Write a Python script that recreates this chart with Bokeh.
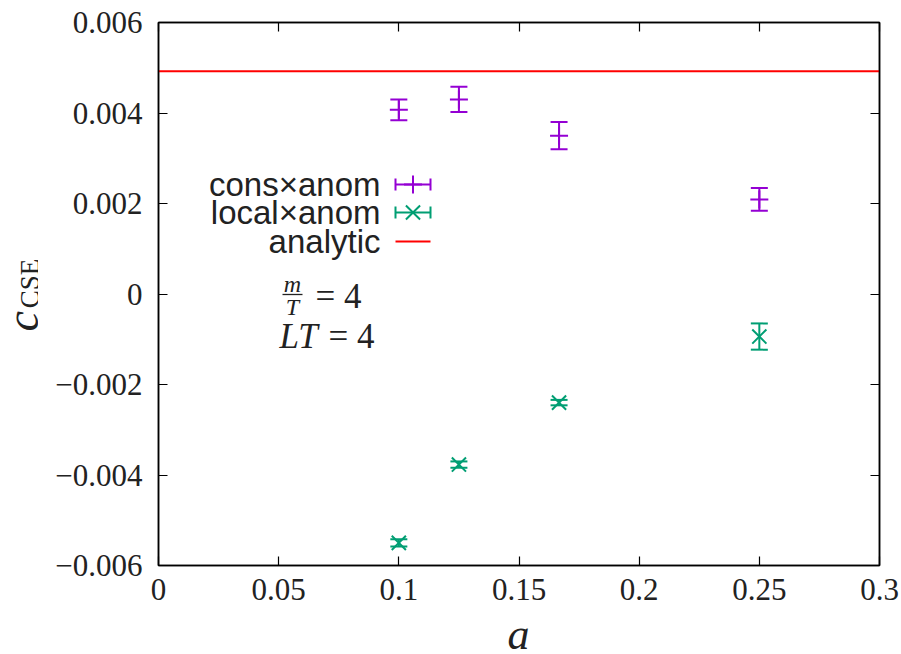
import numpy as np
from bokeh.plotting import figure
from bokeh.layouts import row, column
from bokeh.models import (Range1d, LinearAxis, Label, Whisker, TeeHead, ColumnDataSource,
                          FixedTicker, CustomJSTickFormatter)
from bokeh.embed import file_html
from bokeh.resources import INLINE

# ---------------- data ----------------
a_values = [0.1, 0.125, 1 / 6, 0.25]
cons_anom = [0.00407, 0.00430, 0.00350, 0.00209]
cons_anom_err = [0.00023, 0.00028, 0.00030, 0.00025]
local_anom = [-0.00550, -0.00377, -0.00240, -0.00094]
local_anom_err = [0.00008, 0.00007, 0.00006, 0.00029]
analytic_value = 0.00492

x_ticks = [0.0, 0.05, 0.1, 0.15, 0.2, 0.25, 0.3]
x_tick_labels = ["0", "0.05", "0.1", "0.15", "0.2", "0.25", "0.3"]
y_ticks = [-0.006, -0.004, -0.002, 0.0, 0.002, 0.004, 0.006]
y_tick_labels = ["\u22120.006", "\u22120.004", "\u22120.002", "0", "0.002", "0.004", "0.006"]

legend_labels = ["cons\u00d7anom", "local\u00d7anom", "analytic"]

PURPLE = "#9400d3"
GREEN = "#009e73"
RED = "#ff0000"
INK = "#222222"
SERIF = "Liberation Serif"
SANS = "Liberation Sans"

# ---------------- layout (page pixels) ----------------
W, H = 901, 654
LEFT_STRIP = 38          # column holding the y-axis title
BOTTOM_STRIP = 36        # row holding the x-axis title
L, R, T, B = 158, 879, 22, 565
X0, X1 = 0.0, 0.3
Y0, Y1 = -0.006, 0.006


def px_x(px):
    return X0 + (px - L) / (R - L) * (X1 - X0)


def px_y(py):
    return Y1 - (py - T) / (B - T) * (Y1 - Y0)


def blank_fig(w, h):
    # frame covers the whole strip; coordinates are pixels, y measured upward
    f = figure(width=w, height=h, output_backend="svg", toolbar_location=None,
               x_range=Range1d(0, w), y_range=Range1d(0, h),
               min_border_left=0, min_border_right=0, min_border_top=0, min_border_bottom=0,
               x_axis_location=None, y_axis_location=None)
    f.grid.visible = False
    f.outline_line_color = None
    f.background_fill_color = "white"
    f.border_fill_color = "white"
    return f


main_w = W - LEFT_STRIP
main_h = H - BOTTOM_STRIP
p = figure(width=main_w, height=main_h, output_backend="svg", toolbar_location=None,
           x_range=Range1d(X0, X1), y_range=Range1d(Y0, Y1),
           min_border_left=L - LEFT_STRIP, min_border_right=W - R, min_border_top=T,
           min_border_bottom=main_h - B, x_axis_location=None, y_axis_location=None)
p.grid.visible = False
p.outline_line_color = "black"
p.outline_line_width = 1.5
p.background_fill_color = "white"
p.border_fill_color = "white"

tick_js = """
let best = 0; let d = 1e9;
for (let i = 0; i < tvals.length; i++) {
  const dd = Math.abs(tvals[i] - tick);
  if (dd < d) { d = dd; best = i; }
}
return tlabs[best];
"""


def make_axis(ticks, labels, show):
    ax = LinearAxis(ticker=FixedTicker(ticks=ticks),
                    formatter=CustomJSTickFormatter(args=dict(tvals=ticks, tlabs=labels), code=tick_js))
    ax.major_tick_in = 9
    ax.major_tick_out = 0
    ax.minor_tick_line_color = None
    ax.axis_line_color = "black"
    ax.axis_line_width = 1.5
    ax.major_tick_line_width = 1.2
    ax.major_label_text_font = SERIF
    ax.major_label_text_font_size = "31px" if show else "1px"
    ax.major_label_text_color = INK if show else None
    return ax


xb = make_axis(x_ticks, x_tick_labels, True)
xb.major_label_standoff = 13
p.add_layout(xb, "below")
yl = make_axis(y_ticks, y_tick_labels, True)
yl.major_label_standoff = 16
p.add_layout(yl, "left")
xa = make_axis(x_ticks, x_tick_labels, False)
xa.major_label_standoff = 0
p.add_layout(xa, "above")
yr = make_axis(y_ticks, y_tick_labels, False)
yr.major_label_standoff = 0
p.add_layout(yr, "right")

# analytic line
p.line(x=[X0, X1], y=[analytic_value, analytic_value], line_color=RED, line_width=2)

# data with error bars
cons_src = ColumnDataSource(dict(
    x=a_values, y=cons_anom,
    lo=[v - e for v, e in zip(cons_anom, cons_anom_err)],
    hi=[v + e for v, e in zip(cons_anom, cons_anom_err)]))
local_src = ColumnDataSource(dict(
    x=a_values, y=local_anom,
    lo=[v - e for v, e in zip(local_anom, local_anom_err)],
    hi=[v + e for v, e in zip(local_anom, local_anom_err)]))

for src, col in ((cons_src, PURPLE), (local_src, GREEN)):
    w = Whisker(source=src, base="x", lower="lo", upper="hi", dimension="height",
                line_color=col, line_width=2,
                lower_head=TeeHead(size=17, line_color=col, line_width=2),
                upper_head=TeeHead(size=17, line_color=col, line_width=2))
    p.add_layout(w)

p.scatter(x="x", y="y", source=cons_src, marker="cross", size=18, line_color=PURPLE, line_width=2)
p.scatter(x="x", y="y", source=local_src, marker="x", size=20, line_color=GREEN, line_width=2)

# ---------------- legend (gnuplot style: text left, sample right) ----------------
rows_py = [184, 212, 241]
text_px = 380
s0, s1 = 395, 430
for lab, py in zip(legend_labels, rows_py):
    p.add_layout(Label(x=px_x(text_px), y=px_y(py), text=lab, text_font=SANS,
                       text_font_size="33px", text_color=INK,
                       text_align="right", text_baseline="middle"))
for i, col in enumerate([PURPLE, GREEN]):
    s = ColumnDataSource(dict(y=[px_y(rows_py[i])], lo=[px_x(s0)], hi=[px_x(s1)],
                              x=[px_x((s0 + s1) / 2)]))
    p.add_layout(Whisker(source=s, base="y", lower="lo", upper="hi", dimension="width",
                         line_color=col, line_width=2,
                         lower_head=TeeHead(size=12, line_color=col, line_width=2),
                         upper_head=TeeHead(size=12, line_color=col, line_width=2)))
    p.scatter(x="x", y="y", source=s, marker="cross" if i == 0 else "x",
              size=18 if i == 0 else 20, line_color=col, line_width=2)
p.line(x=[px_x(s0), px_x(s1)], y=[px_y(rows_py[2])] * 2, line_color=RED, line_width=2)

# ---------------- annotations ----------------
p.add_layout(Label(x=px_x(292), y=px_y(283), text="m", text_font=SERIF, text_font_style="italic",
                   text_font_size="24px", text_align="center", text_baseline="middle",
                   text_color=INK))
p.line(x=[px_x(282), px_x(302)], y=[px_y(294), px_y(294)], line_color=INK, line_width=1.3)
p.add_layout(Label(x=px_x(292), y=px_y(306), text="T", text_font=SERIF, text_font_style="italic",
                   text_font_size="24px", text_align="center", text_baseline="middle",
                   text_color=INK))
p.add_layout(Label(x=px_x(315), y=px_y(296), text="= 4", text_font=SERIF,
                   text_font_size="35px", text_align="left", text_baseline="middle",
                   text_color=INK))
p.add_layout(Label(x=px_x(279), y=px_y(336), text="LT", text_font=SERIF, text_font_style="italic",
                   text_font_size="35px", text_align="left", text_baseline="middle",
                   text_color=INK))
p.add_layout(Label(x=px_x(328), y=px_y(336), text="= 4", text_font=SERIF,
                   text_font_size="35px", text_align="left", text_baseline="middle",
                   text_color=INK))

# ---------------- axis titles (in side strips, pixel coordinates) ----------------
left_h = H - BOTTOM_STRIP
left = blank_fig(LEFT_STRIP, left_h)
left.add_layout(Label(x=22, y=left_h - 340, text="c", text_font=SERIF, text_font_style="italic",
                      text_font_size="46px", text_align="center", text_baseline="middle",
                      angle=np.pi / 2, text_color=INK))
left.add_layout(Label(x=29, y=left_h - 297, text="CSE", text_font=SERIF,
                      text_font_size="27px", text_align="center", text_baseline="middle",
                      angle=np.pi / 2, text_color=INK))

bottom = blank_fig(W, BOTTOM_STRIP)
bottom.add_layout(Label(x=518, y=BOTTOM_STRIP - (634 - (H - BOTTOM_STRIP)), text="a",
                        text_font=SERIF, text_font_style="italic",
                        text_font_size="44px", text_align="center", text_baseline="middle",
                        text_color=INK))

layout = column(row(left, p, spacing=0), bottom, spacing=0)
open("out.html", "w").write(file_html(layout, INLINE))
